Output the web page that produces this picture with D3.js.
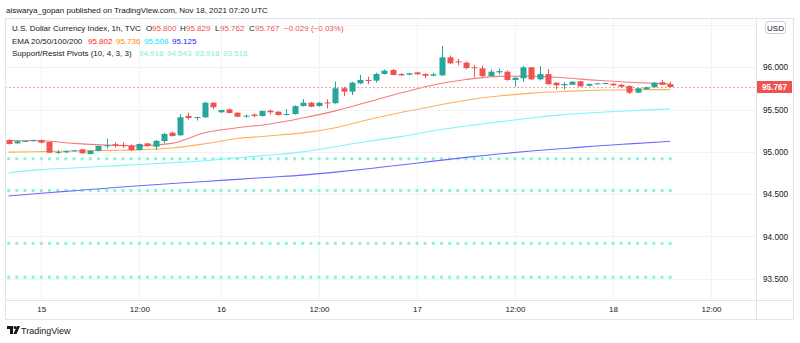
<!DOCTYPE html>
<html><head><meta charset="utf-8">
<script src="https://cdn.jsdelivr.net/npm/d3@7"></script>
<style>
body{margin:0;background:#fff;}
svg{display:block;}
text{font-family:"Liberation Sans",Arial,sans-serif;}
</style>
</head><body>
<svg id="c" width="800" height="343"></svg>
<script>
// ---------- DATA ----------
const open  = [95.140,95.101,95.125,95.128,95.140,95.117,94.990,94.995,95.010,95.030,94.975,95.010,95.070,95.090,95.082,95.070,95.022,95.100,95.061,95.128,95.227,95.196,95.424,95.405,95.409,95.581,95.468,95.503,95.463,95.416,95.440,95.424,95.487,95.475,95.436,95.448,95.542,95.581,95.542,95.585,95.575,95.752,95.712,95.810,95.850,95.842,95.921,95.968,95.921,95.912,95.940,95.921,95.900,95.905,96.118,96.070,96.055,96.000,95.988,95.897,95.940,95.948,95.850,95.870,96.000,95.858,95.920,95.818,95.787,95.794,95.834,95.782,95.800,95.806,95.806,95.794,95.779,95.700,95.740,95.764,95.823,95.800];
const high  = [95.150,95.130,95.135,95.145,95.148,95.120,95.020,95.015,95.022,95.035,95.020,95.075,95.155,95.110,95.110,95.090,95.100,95.105,95.140,95.225,95.240,95.448,95.463,95.415,95.593,95.585,95.498,95.512,95.468,95.440,95.455,95.490,95.500,95.480,95.503,95.550,95.625,95.590,95.590,95.620,95.830,95.770,95.830,95.909,95.889,95.935,95.975,95.980,95.930,95.935,95.945,95.928,95.935,96.252,96.140,96.100,96.068,96.027,96.020,95.975,95.985,95.960,95.880,96.015,96.005,96.015,95.980,95.825,95.825,95.835,95.840,95.808,95.815,95.820,95.812,95.805,95.785,95.760,95.770,95.825,95.850,95.829];
const low   = [95.085,95.090,95.118,95.122,95.100,94.985,94.975,94.985,95.005,94.978,94.970,95.005,95.040,95.050,95.045,95.010,95.015,95.060,95.025,95.100,95.180,95.190,95.385,95.370,95.400,95.503,95.462,95.455,95.410,95.405,95.410,95.418,95.440,95.430,95.430,95.440,95.535,95.528,95.535,95.515,95.568,95.660,95.672,95.800,95.800,95.820,95.915,95.905,95.900,95.905,95.912,95.870,95.895,95.895,96.035,96.024,95.975,95.880,95.880,95.890,95.915,95.840,95.770,95.830,95.850,95.845,95.795,95.740,95.740,95.790,95.770,95.775,95.795,95.800,95.780,95.760,95.684,95.695,95.735,95.760,95.790,95.762];
const close = [95.093,95.125,95.130,95.140,95.108,94.990,95.000,95.010,95.018,94.983,95.014,95.070,95.078,95.073,95.073,95.022,95.093,95.070,95.130,95.211,95.188,95.409,95.400,95.412,95.581,95.527,95.495,95.460,95.416,95.428,95.424,95.483,95.468,95.436,95.448,95.542,95.581,95.534,95.581,95.573,95.752,95.712,95.818,95.850,95.842,95.921,95.960,95.909,95.905,95.929,95.917,95.900,95.917,96.118,96.047,96.063,95.990,95.990,95.897,95.948,95.955,95.850,95.877,96.000,95.858,95.920,95.800,95.787,95.802,95.830,95.775,95.802,95.811,95.814,95.787,95.770,95.700,95.752,95.764,95.818,95.794,95.767];

const emaIdx = [0,4,8,12,16,20,24,28,32,36,40,44,48,52,56,60,64,68,72,76,81];
const ema20  = [95.134,95.131,95.100,95.080,95.071,95.100,95.225,95.285,95.330,95.400,95.485,95.590,95.695,95.790,95.855,95.893,95.896,95.876,95.846,95.823,95.802];
const ema50  = [94.997,95.003,95.011,95.018,95.024,95.045,95.095,95.158,95.190,95.225,95.285,95.380,95.465,95.540,95.610,95.660,95.695,95.715,95.728,95.734,95.736];
const ema100 = [94.752,94.790,94.810,94.830,94.850,94.872,94.895,94.930,94.962,95.000,95.060,95.125,95.180,95.250,95.305,95.355,95.400,95.440,95.465,95.487,95.508];
const ema200 = [94.478,94.510,94.540,94.570,94.600,94.625,94.650,94.675,94.700,94.725,94.760,94.800,94.845,94.890,94.935,94.975,95.010,95.040,95.070,95.095,95.125];

const pivots = [94.918,94.543,93.918,93.518];
const gridTicks = [96.5,96.0,95.5,95.0,94.5,94.0,93.5];
const priceTicks = [96.0,95.5,95.0,94.5,94.0,93.5];
const timeTickIdx = [4,16,26,38,50,62,74,86];
const timeTickLabels = ["15","12:00","16","12:00","17","12:00","18","12:00"];
const lastPrice = 95.767;

// ---------- LAYOUT ----------
const svg = d3.select("#c");
const pane = {l:5, r:756, t:18, b:300};
const outer = {l:5, r:793, t:18, b:319};
const UP="#26a69a", DN="#ef5350", TXT="#131722", GRID="#f0f3fa", BORDER="#e0e3eb";

const x = d3.scaleLinear().domain([0,86]).range([8.66, 8.66+86*8.167]);
const y = d3.scaleLinear().domain([93.5,96]).range([278.7,67.3]);

svg.append("text").attr("x",6).attr("y",13).attr("font-size",8).attr("fill",TXT)
  .text("aiswarya_gopan published on TradingView.com, Nov 18, 2021 07:20 UTC");

// clip
svg.append("defs").append("clipPath").attr("id","pc").append("rect")
  .attr("x",pane.l).attr("y",pane.t).attr("width",pane.r-pane.l).attr("height",pane.b-pane.t);

const g = svg.append("g").attr("clip-path","url(#pc)");

// grid
g.selectAll("line.hg").data(gridTicks).join("line")
  .attr("x1",pane.l).attr("x2",pane.r).attr("y1",d=>Math.round(y(d))+0.5).attr("y2",d=>Math.round(y(d))+0.5)
  .attr("stroke",GRID);
g.selectAll("line.vg").data(timeTickIdx).join("line")
  .attr("y1",pane.t).attr("y2",pane.b).attr("x1",d=>Math.round(x(d))+0.5).attr("x2",d=>Math.round(x(d))+0.5)
  .attr("stroke",GRID);

// pivot dots
const idx = d3.range(open.length);
pivots.forEach(p=>{
  g.selectAll(null).data(idx).join("rect")
    .attr("x",i=>x(i)-1.5).attr("y",y(p)-1.5).attr("width",3).attr("height",3)
    .attr("fill","#8cf3d6");
});

// EMA lines
const line = d3.line().x((d,i)=>x(emaIdx[i])).y(d=>y(d)).curve(d3.curveMonotoneX);
[[ema200,"#6a6aff"],[ema100,"#7ff6f6"],[ema50,"#ffae5a"],[ema20,"#f47c7c"]].forEach(([s,c])=>{
  g.append("path").attr("d",line(s)).attr("fill","none").attr("stroke",c).attr("stroke-width",1.1);
});

// last price dashed line
g.append("line").attr("x1",pane.l).attr("x2",pane.r)
  .attr("y1",Math.round(y(lastPrice))+0.5).attr("y2",Math.round(y(lastPrice))+0.5)
  .attr("stroke","#f7a3a2").attr("stroke-dasharray","2,2");

// candles
const cg = g.append("g");
cg.selectAll("line.w").data(idx).join("line")
  .attr("x1",i=>Math.round(x(i))+0.5).attr("x2",i=>Math.round(x(i))+0.5)
  .attr("y1",i=>y(high[i])).attr("y2",i=>y(low[i]))
  .attr("stroke",i=>close[i]>=open[i]?UP:DN);
cg.selectAll("rect.b").data(idx).join("rect")
  .attr("x",i=>Math.round(x(i))-2.5).attr("width",6)
  .attr("y",i=>y(Math.max(open[i],close[i])))
  .attr("height",i=>Math.max(1,Math.abs(y(open[i])-y(close[i]))))
  .attr("fill",i=>close[i]>=open[i]?UP:DN);

// frame
svg.append("rect").attr("x",outer.l+0.5).attr("y",outer.t+0.5).attr("width",outer.r-outer.l).attr("height",outer.b-outer.t)
  .attr("fill","none").attr("stroke",BORDER);
svg.append("line").attr("x1",pane.r+0.5).attr("x2",pane.r+0.5).attr("y1",outer.t).attr("y2",outer.b).attr("stroke",BORDER);
svg.append("line").attr("x1",outer.l).attr("x2",outer.r).attr("y1",pane.b+0.5).attr("y2",pane.b+0.5).attr("stroke",BORDER);

// price axis
const ya = d3.axisRight(y).tickValues(priceTicks).tickFormat(d3.format(".3f")).tickSize(0).tickPadding(6);
const yg = svg.append("g").attr("transform",`translate(${pane.r+1},0)`).call(ya);
yg.select(".domain").remove();
yg.selectAll("text").attr("font-size",8.2).attr("fill",TXT).attr("font-family","Liberation Sans, Arial, sans-serif");

// USD badge
svg.append("rect").attr("x",765.5).attr("y",21.5).attr("width",20).attr("height",12).attr("rx",3)
  .attr("fill","#fff").attr("stroke","#c9cdd6");
svg.append("text").attr("x",775.5).attr("y",30.5).attr("text-anchor","middle").attr("font-size",8).attr("fill",TXT).text("USD");

// last price label
svg.append("rect").attr("x",pane.r+1).attr("y",y(lastPrice)-6).attr("width",35).attr("height",12).attr("fill",DN);
svg.append("text").attr("x",pane.r+6).attr("y",y(lastPrice)+3).attr("font-size",8.2).attr("font-weight","bold")
  .attr("fill","#fff").text(d3.format(".3f")(lastPrice));

// time axis
const xa = d3.axisBottom(x).tickValues(timeTickIdx).tickFormat((d,i)=>timeTickLabels[i]).tickSize(0).tickPadding(6);
const xg = svg.append("g").attr("transform",`translate(0,${pane.b})`).call(xa);
xg.select(".domain").remove();
xg.selectAll("text").attr("font-size",8).attr("fill",TXT).attr("font-family","Liberation Sans, Arial, sans-serif");

// legend (each part placed at its own x)
const lg = svg.append("g").attr("font-size",8);
function legendLine(yy, parts){
  parts.forEach(([s,c,xx])=>lg.append("text").attr("x",xx).attr("y",yy).attr("fill",c).text(s));
}
legendLine(31,[["U.S. Dollar Currency Index, 1h, TVC",TXT,12],["O",TXT,146],["95.800",DN,152],["H",TXT,180],["95.829",DN,186],
  ["L",TXT,215],["95.762",DN,220],["C",TXT,249],["95.767",DN,255],["\u22120.029 (\u22120.03%)",DN,284]]);
legendLine(43.5,[["EMA 20/50/100/200",TXT,12],["95.802","#ff1a1a",88],["95.736","#ff8c00",116],["95.508","#00e5ff",144],["95.125","#1a1aff",172]]);
legendLine(55.5,[["Support/Resist Pivots (10, 4, 3, 3)",TXT,12],["94.918","#7ff0cd",139],["94.543","#7ff0cd",167],["93.918","#7ff0cd",195],["93.518","#7ff0cd",223]]);

// logo
const logo = svg.append("g").attr("transform","translate(7,326)").attr("fill",TXT);
logo.append("path").attr("d","M0 0 H6 V8 H3 V3 H0 Z");
logo.append("circle").attr("cx",8).attr("cy",1.5).attr("r",1.5);
logo.append("path").attr("d","M10 0 H13 L9.5 8 H6.5 Z");
svg.append("text").attr("x",21).attr("y",334).attr("font-size",9).attr("fill",TXT).text("TradingView");
</script>
</body></html>
